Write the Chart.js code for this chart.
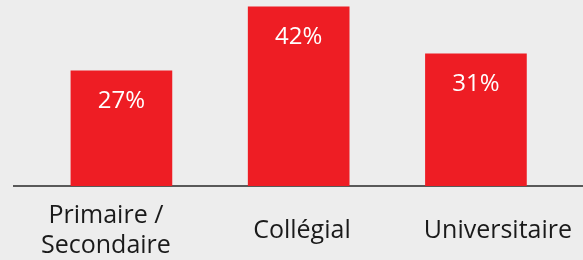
<!DOCTYPE html>
<html>
<head>
<meta charset="utf-8">
<script src="https://cdn.jsdelivr.net/npm/chart.js@4"></script>
<style>
  html, body { margin: 0; padding: 0; background: #ededed; }
  #wrap { width: 583px; height: 260px; position: relative; }
</style>
</head>
<body>
<div id="wrap"><canvas id="chart"></canvas></div>
<script>
const categories = [["Primaire /", "Secondaire"], "Collégial", "Universitaire"];
const values = [27, 42, 31];
const valueLabels = ["27%", "42%", "31%"];

const fontFamily = "'Open Sans', 'Liberation Sans', sans-serif";

// white value labels inside the bars
const barLabels = {
  id: "barLabels",
  afterDatasetsDraw(chart) {
    const ctx = chart.ctx;
    const meta = chart.getDatasetMeta(0);
    ctx.save();
    ctx.fillStyle = "#ffffff";
    ctx.font = "24px " + fontFamily;
    ctx.textAlign = "center";
    ctx.textBaseline = "middle";
    meta.data.forEach((bar, i) => {
      ctx.fillText(valueLabels[i], bar.x, bar.y + 30);
    });
    ctx.restore();
  }
};

new Chart(document.getElementById("chart"), {
  type: "bar",
  data: {
    datasets: [{
      data: values.map((v, i) => ({ x: i, y: v })),
      backgroundColor: "#ee1d24",
      borderWidth: 0,
      barThickness: 101,
      xAxisID: "x"
    }]
  },
  options: {
    responsive: true,
    maintainAspectRatio: false,
    animation: false,
    layout: { padding: { left: 14, right: 0, top: 0, bottom: 0 } },
    plugins: { legend: { display: false }, tooltip: { enabled: false } },
    scales: {
      y: { display: false, min: 0, max: 43.6 },
      // bar positions
      x: { type: "linear", display: false, offset: false, min: -0.606, max: 2.604 },
      // category labels sit a little wider apart than the bars
      x2: {
        type: "linear",
        position: "bottom",
        offset: false,
        min: -0.469,
        max: 2.434,
        afterFit(scale) {
          scale.height = 74;
          scale.paddingLeft = 0;
          scale.paddingRight = 0;
        },
        afterBuildTicks(scale) { scale.ticks = categories.map((c, i) => ({ value: i })); },
        grid: { display: false, drawTicks: false },
        border: { display: true, color: "#595959", width: 2 },
        ticks: {
          color: "#1a1a1a",
          font: { family: fontFamily, size: 25 },
          padding: 30,
          crossAlign: "center",
          maxRotation: 0,
          autoSkip: false,
          callback: (v) => categories[v]
        }
      }
    }
  },
  plugins: [barLabels]
});
</script>
</body>
</html>
